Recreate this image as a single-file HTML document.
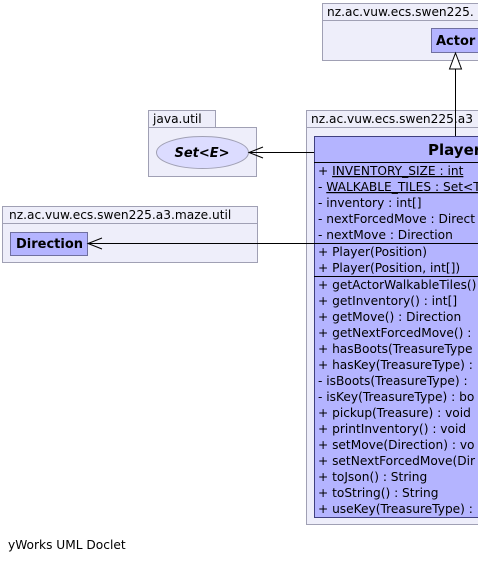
<!DOCTYPE html>
<html><head><meta charset="utf-8"><style>
html,body{margin:0;padding:0;background:#fff;width:478px;height:562px;overflow:hidden}
svg text{font-family:"DejaVu Sans","Liberation Sans",sans-serif;font-size:12.2px;fill:#000}
</style></head><body>
<svg width="478" height="562" viewBox="0 0 478 562" xmlns="http://www.w3.org/2000/svg">
<g stroke="#a0a0b4" stroke-width="1" fill="#eeeefa">
<rect x="322.5" y="3.5" width="170" height="17"/>
<rect x="322.5" y="20.5" width="170" height="40"/>
<rect x="148.5" y="110.5" width="67" height="17"/>
<rect x="148.5" y="127.5" width="108" height="49"/>
<rect x="306.5" y="110.5" width="190" height="17"/>
<rect x="306.5" y="127.5" width="190" height="397"/>
<rect x="2.5" y="206.5" width="255" height="17"/>
<rect x="2.5" y="223.5" width="255" height="39"/>
</g>
<text x="327" y="16">nz.ac.vuw.ecs.swen225.</text>
<text x="153" y="123">java.util</text>
<text x="311" y="123">nz.ac.vuw.ecs.swen225.a3</text>
<text x="9" y="219">nz.ac.vuw.ecs.swen225.a3.maze.util</text>

<rect x="431.5" y="28.5" width="60" height="24" fill="#b4b4ff" stroke="#7070a0"/>
<text x="436" y="45" style="font-weight:bold;font-size:13px">Actor</text>

<ellipse cx="202.5" cy="152.5" rx="46" ry="16" fill="#dcdcff" stroke="#a0a0b4"/>
<text x="202" y="157" text-anchor="middle" style="font-weight:bold;font-style:italic;font-size:13px">Set&lt;E&gt;</text>

<rect x="10.5" y="232.5" width="77" height="23" fill="#b4b4ff" stroke="#7070a0"/>
<text x="16" y="248" style="font-weight:bold;font-size:13px">Direction</text>

<rect x="314.5" y="136.5" width="180" height="381" fill="#b4b4ff" stroke="#404080"/>
<g stroke="#000" stroke-width="1">
<line x1="314" y1="162.5" x2="478" y2="162.5"/>
<line x1="314" y1="243.5" x2="478" y2="243.5"/>
<line x1="314" y1="276.5" x2="478" y2="276.5"/>
</g>
<text x="428" y="155" style="font-weight:bold;font-size:15px">Player</text>
<g>
<text x="318" y="175">+ <tspan text-decoration="underline">INVENTORY_SIZE : int</tspan></text>
<text x="318" y="191">- <tspan text-decoration="underline">WALKABLE_TILES : Set&lt;T</tspan></text>
<text x="318" y="207">- inventory : int[]</text>
<text x="318" y="223">- nextForcedMove : Direct</text>
<text x="318" y="239">- nextMove : Direction</text>
<text x="318" y="256">+ Player(Position)</text>
<text x="318" y="272">+ Player(Position, int[])</text>
<text x="318" y="289">+ getActorWalkableTiles()</text>
<text x="318" y="305">+ getInventory() : int[]</text>
<text x="318" y="321">+ getMove() : Direction</text>
<text x="318" y="337">+ getNextForcedMove() :</text>
<text x="318" y="353">+ hasBoots(TreasureType</text>
<text x="318" y="369">+ hasKey(TreasureType) :</text>
<text x="318" y="385">- isBoots(TreasureType) :</text>
<text x="318" y="401">- isKey(TreasureType) : bo</text>
<text x="318" y="417">+ pickup(Treasure) : void</text>
<text x="318" y="433">+ printInventory() : void</text>
<text x="318" y="449">+ setMove(Direction) : vo</text>
<text x="318" y="465">+ setNextForcedMove(Dir</text>
<text x="318" y="481">+ toJson() : String</text>
<text x="318" y="497">+ toString() : String</text>
<text x="318" y="513">+ useKey(TreasureType) :</text>
</g>

<g stroke="#000" stroke-width="1" fill="none">
<line x1="455.5" y1="69" x2="455.5" y2="136"/>
<polygon points="455.5,53 449.5,69 461.5,69" fill="#fff"/>
<line x1="249" y1="152.5" x2="314" y2="152.5"/>
<polyline points="263,147 249,152.5 263,158"/>
<line x1="88" y1="243.5" x2="314" y2="243.5"/>
<polyline points="102,238 88,243.5 102,249"/>
</g>

<text x="8" y="549">yWorks UML Doclet</text>
</svg>
</body></html>
